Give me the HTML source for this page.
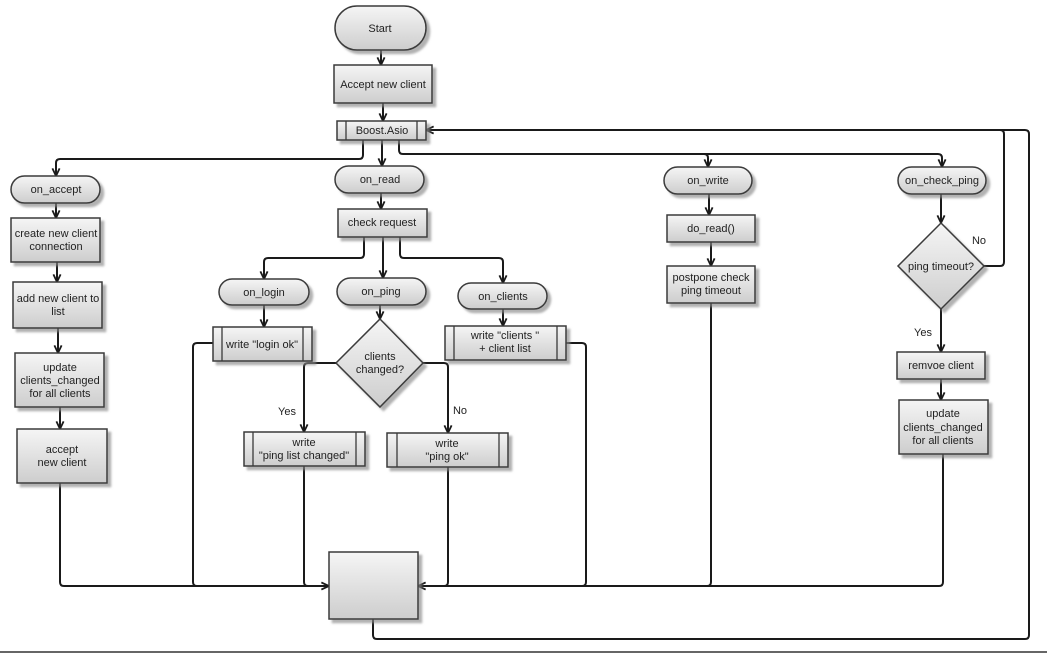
<!DOCTYPE html>
<html>
<head>
<meta charset="utf-8">
<style>
html,body{margin:0;padding:0;background:#fff;}
svg{display:block;}
text{font-family:"Liberation Sans",Arial,sans-serif;font-size:11px;fill:#222;text-anchor:middle;}
.s{fill:url(#g);stroke:#3a3a3a;stroke-width:1.5;filter:url(#sh);}
.l{fill:none;stroke:#3a3a3a;stroke-width:1.3;}
.c{fill:none;stroke:#1a1a1a;stroke-width:2;}
.lab{text-anchor:middle;}
</style>
</head>
<body>
<svg width="1047" height="653" viewBox="0 0 1047 653" xmlns="http://www.w3.org/2000/svg">
<defs>
<linearGradient id="g" x1="0" y1="0" x2="0" y2="1">
<stop offset="0" stop-color="#f5f5f5"/>
<stop offset="1" stop-color="#cdcdcd"/>
</linearGradient>
<filter id="sh" x="-20%" y="-20%" width="150%" height="150%">
<feDropShadow dx="3.5" dy="3.5" stdDeviation="1" flood-color="#888" flood-opacity="0.65"/>
</filter>
<marker id="a" viewBox="0 0 10 10" refX="9.5" refY="5" markerWidth="9" markerHeight="9" markerUnits="userSpaceOnUse" orient="auto">
<path d="M1,1 L9.5,5 L1,9" fill="none" stroke="#1a1a1a" stroke-width="2"/>
</marker>
</defs>

<!-- connectors -->
<g class="c">
<path d="M381,50 L381,65" marker-end="url(#a)"/>
<path d="M383,103 L383,121" marker-end="url(#a)"/>
<path d="M382,140 L382,166" marker-end="url(#a)"/>
<path d="M363,140 L363,155 Q363,159 359,159 L60,159 Q56,159 56,163 L56,176" marker-end="url(#a)"/>
<path d="M399,140 L399,150 Q399,154 403,154 L704,154 Q708,154 708,158 L708,167" marker-end="url(#a)"/>
<path d="M704,154 L938,154 Q942,154 942,158 L942,167" marker-end="url(#a)"/>
<path d="M381,193 L381,209" marker-end="url(#a)"/>
<path d="M364,237 L364,254 Q364,258 360,258 L268,258 Q264,258 264,262 L264,279" marker-end="url(#a)"/>
<path d="M383,237 L383,278" marker-end="url(#a)"/>
<path d="M400,237 L400,254 Q400,258 404,258 L499,258 Q503,258 503,262 L503,283" marker-end="url(#a)"/>
<path d="M264,305 L264,327" marker-end="url(#a)"/>
<path d="M380,305 L380,319" marker-end="url(#a)"/>
<path d="M503,309 L503,326" marker-end="url(#a)"/>
<path d="M336,363 L308,363 Q304,363 304,367 L304,432" marker-end="url(#a)"/>
<path d="M423,363 L444,363 Q448,363 448,367 L448,433" marker-end="url(#a)"/>
<path d="M56,203 L56,218" marker-end="url(#a)"/>
<path d="M57,262 L57,282" marker-end="url(#a)"/>
<path d="M58,328 L58,353" marker-end="url(#a)"/>
<path d="M60,407 L60,429" marker-end="url(#a)"/>
<path d="M60,483 L60,582 Q60,586 64,586 L329,586" marker-end="url(#a)"/>
<path d="M213,343 L197,343 Q193,343 193,347 L193,582 Q193,586 197,586"/>
<path d="M304,466 L304,582 Q304,586 308,586"/>
<path d="M448,467 L448,582 Q448,586 444,586"/>
<path d="M566,343 L582,343 Q586,343 586,347 L586,582 Q586,586 582,586"/>
<path d="M711,303 L711,582 Q711,586 707,586"/>
<path d="M943,454 L943,582 Q943,586 939,586 L418,586" marker-end="url(#a)"/>
<path d="M373,619 L373,635 Q373,639 377,639 L1025,639 Q1029,639 1029,635 L1029,134 Q1029,130 1025,130 L426,130" marker-end="url(#a)"/>
<path d="M984,266 L1000,266 Q1004,266 1004,262 L1004,134 Q1004,130 1000,130"/>
<path d="M709,194 L709,215" marker-end="url(#a)"/>
<path d="M711,242 L711,266" marker-end="url(#a)"/>
<path d="M941,194 L941,223" marker-end="url(#a)"/>
<path d="M941,309 L941,352" marker-end="url(#a)"/>
<path d="M941,379 L941,400" marker-end="url(#a)"/>
</g>

<!-- shapes -->
<rect class="s" x="335" y="6" width="91" height="44" rx="22"/>
<rect class="s" x="334" y="65" width="98" height="38"/>
<rect class="s" x="337" y="121" width="89" height="19"/>
<path class="l" d="M346,121 L346,140 M417,121 L417,140"/>

<rect class="s" x="11" y="176" width="89" height="27" rx="13.5"/>
<rect class="s" x="11" y="218" width="89" height="44"/>
<rect class="s" x="13" y="282" width="89" height="46"/>
<rect class="s" x="15" y="353" width="89" height="54"/>
<rect class="s" x="17" y="429" width="90" height="54"/>

<rect class="s" x="335" y="166" width="89" height="27" rx="13.5"/>
<rect class="s" x="338" y="209" width="89" height="28"/>

<rect class="s" x="219" y="279" width="90" height="26" rx="13"/>
<rect class="s" x="337" y="278" width="89" height="27" rx="13.5"/>
<rect class="s" x="458" y="283" width="89" height="26" rx="13"/>

<rect class="s" x="213" y="327" width="99" height="34"/>
<path class="l" d="M222,327 L222,361 M303,327 L303,361"/>

<path class="s" d="M380,319 L423,363 L380,407 L336,363 Z"/>

<rect class="s" x="445" y="326" width="121" height="34"/>
<path class="l" d="M454,326 L454,360 M557,326 L557,360"/>

<rect class="s" x="244" y="432" width="121" height="34"/>
<path class="l" d="M253,432 L253,466 M356,432 L356,466"/>

<rect class="s" x="387" y="433" width="121" height="34"/>
<path class="l" d="M397,433 L397,467 M499,433 L499,467"/>

<rect class="s" x="329" y="552" width="89" height="67"/>

<rect class="s" x="664" y="167" width="88" height="27" rx="13.5"/>
<rect class="s" x="667" y="215" width="88" height="27"/>
<rect class="s" x="667" y="266" width="88" height="37"/>

<rect class="s" x="898" y="167" width="88" height="27" rx="13.5"/>
<path class="s" d="M941,223 L984,266 L941,309 L898,266 Z"/>
<rect class="s" x="897" y="352" width="88" height="27"/>
<rect class="s" x="899" y="400" width="89" height="54"/>

<!-- labels -->
<text x="380" y="32">Start</text>
<text x="383" y="88">Accept new client</text>
<text x="382" y="134">Boost.Asio</text>

<text x="56" y="193">on_accept</text>
<text x="56" y="237">create new client</text>
<text x="56" y="250">connection</text>
<text x="58" y="302">add new client to</text>
<text x="58" y="315">list</text>
<text x="60" y="371">update</text>
<text x="60" y="384">clients_changed</text>
<text x="60" y="397">for all clients</text>
<text x="62" y="453">accept</text>
<text x="62" y="466">new client</text>

<text x="380" y="183">on_read</text>
<text x="382" y="226">check request</text>
<text x="264" y="296">on_login</text>
<text x="381" y="295">on_ping</text>
<text x="503" y="300">on_clients</text>

<text x="262" y="348">write "login ok"</text>
<text x="380" y="360">clients</text>
<text x="380" y="373">changed?</text>
<text x="505" y="339">write "clients "</text>
<text x="505" y="352">+ client list</text>

<text x="287" y="415">Yes</text>
<text x="460" y="414">No</text>

<text x="304" y="446">write</text>
<text x="304" y="459">"ping list changed"</text>
<text x="447" y="447">write</text>
<text x="447" y="460">"ping ok"</text>

<text x="708" y="184">on_write</text>
<text x="711" y="232">do_read()</text>
<text x="711" y="281">postpone check</text>
<text x="711" y="294">ping timeout</text>

<text x="942" y="184">on_check_ping</text>
<text x="941" y="270">ping timeout?</text>
<text x="979" y="244">No</text>
<text x="923" y="336">Yes</text>
<text x="941" y="369">remvoe client</text>
<text x="943" y="417">update</text>
<text x="943" y="431">clients_changed</text>
<text x="943" y="444">for all clients</text>

<rect x="0" y="651" width="1047" height="2" fill="#666"/>
</svg>
</body>
</html>
